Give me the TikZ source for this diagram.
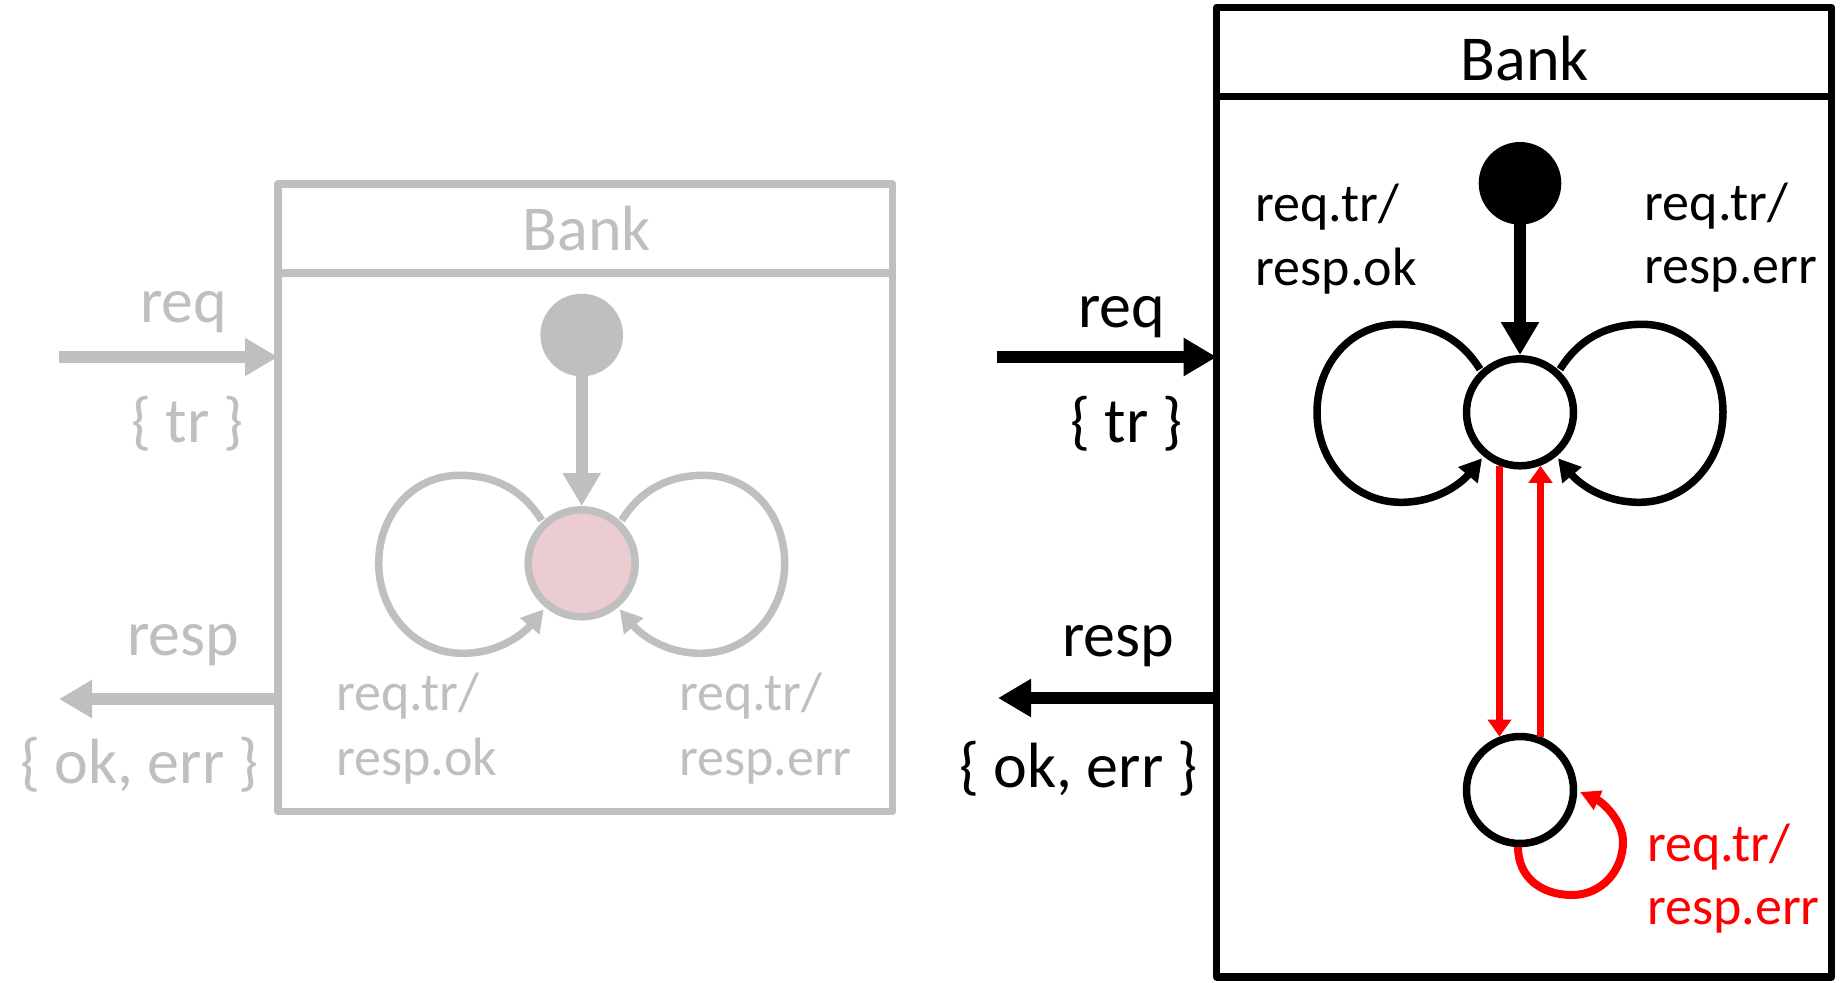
\documentclass[tikz,border=0pt]{standalone}
\usepackage{fontspec}
\setmainfont{Carlito}
\usetikzlibrary{arrows.meta,calc}
\definecolor{gr}{RGB}{191,191,191}
\definecolor{pinkfill}{RGB}{235,204,209}
\definecolor{myred}{RGB}{255,0,0}
\begin{document}
\begin{tikzpicture}[x=0.5pt,y=0.5pt,
  every node/.style={inner sep=0pt, outer sep=0pt},
  boxL/.style={draw, rectangle, line width=3.75pt, line join=round, minimum width=307.35pt, minimum height=313.85pt},
  boxR/.style={draw, rectangle, line width=3.75pt, line join=round, minimum width=307.5pt, minimum height=484.85pt},
  state/.style={draw, circle, line width=3.75pt, minimum size=53.5pt, outer sep=1.875pt},
  initst/.style={circle, minimum size=41.3pt},
  lab/.style={font=\fontsize{27}{31.5}\selectfont, anchor=base west},
  port/.style={font=\fontsize{32}{38}\selectfont, anchor=base east},
  title/.style={font=\fontsize{32}{38}\selectfont, anchor=base},
  bigarrow/.style={line width=6pt, -{Triangle[length=16.5pt,width=18pt]}},
  looparrow/.style={line width=3.75pt, -{Triangle[length=11pt,width=12pt]}},
  redarrow/.style={myred, line width=3.5pt, -{Triangle[length=8.5pt,width=11.5pt]}},
  redloop/.style={myred, line width=4pt, -{Triangle[length=10pt,width=10pt]}}
]
\fill[white] (0,0) rectangle (1843,-982);
\useasboundingbox (0,0) rectangle (1843,-982);

% ================= LEFT (grey) =================
\begin{scope}[gr]
\node[boxL, draw=gr] (lbox) at (585.35,-497.85) {};
\draw[line width=3.75pt] (lbox.west |- 0,-273) -- (lbox.east |- 0,-273);
\node[title, text=gr] (ltitle) at (587,-250) {Bank};

\node[initst, fill=gr] (linit) at (581.7,-335) {};
\node[state, draw=gr, fill=pinkfill] (lmain) at (581.7,-563.3) {};
\draw[bigarrow, gr] (linit.center) -- (lmain.north);

\draw[looparrow, gr] ([shift={(-40,43)}]lmain.center)
  .. controls ([shift={(-58,72)}]lmain.center) and ([shift={(-85,88)}]lmain.center) .. ([shift={(-122,88)}]lmain.center)
  .. controls ([shift={(-170,88)}]lmain.center) and ([shift={(-203,48)}]lmain.center) .. ([shift={(-203,0)}]lmain.center)
  .. controls ([shift={(-203,-48)}]lmain.center) and ([shift={(-168,-90)}]lmain.center) .. ([shift={(-119,-90)}]lmain.center)
  .. controls ([shift={(-82,-90)}]lmain.center) and ([shift={(-58,-70)}]lmain.center) .. ([shift={(-38,-46)}]lmain.center);
\draw[looparrow, gr] ([shift={(40,43)}]lmain.center)
  .. controls ([shift={(58,72)}]lmain.center) and ([shift={(85,88)}]lmain.center) .. ([shift={(122,88)}]lmain.center)
  .. controls ([shift={(170,88)}]lmain.center) and ([shift={(203,48)}]lmain.center) .. ([shift={(203,0)}]lmain.center)
  .. controls ([shift={(203,-48)}]lmain.center) and ([shift={(168,-90)}]lmain.center) .. ([shift={(119,-90)}]lmain.center)
  .. controls ([shift={(82,-90)}]lmain.center) and ([shift={(58,-70)}]lmain.center) .. ([shift={(38,-46)}]lmain.center);

\node[lab, text=gr] (ll1a) at (336,-710) {req.tr/};
\node[lab, text=gr] (ll1b) at (336,-775) {resp.ok};
\node[lab, text=gr] (ll2a) at (679,-710) {req.tr/};
\node[lab, text=gr] (ll2b) at (679,-775) {resp.err};

\coordinate (lreqs) at (59,-357);
\coordinate (lresps) at (59,-699);
\draw[bigarrow, gr] (lreqs) -- (lreqs -| lbox.west);
\draw[bigarrow, gr] (lresps -| lbox.west) -- (lresps);
\node[port, text=gr] (lreq) at (227,-322) {req};
\node[port, text=gr] (ltr) at (244,-442) {\{ tr \}};
\node[port, text=gr] (lresp) at (239,-655) {resp};
\node[port, text=gr] (lokerr) at (259,-783) {\{ ok, err \}};
\end{scope}

% ================= RIGHT (black) =================
\node[boxR] (rbox) at (1524.2,-492.15) {};
\draw[line width=3.75pt] (rbox.west |- 0,-96.7) -- (rbox.east |- 0,-96.7);
\node[title] (rtitle) at (1525,-80) {Bank};

\node[initst, fill=black] (rinit) at (1520,-183.3) {};
\node[state, fill=white] (rmain) at (1520,-412.3) {};
\node[state, fill=white] (rbot) at (1520,-790) {};
\draw[bigarrow] (rinit.center) -- (rmain.north);

\draw[looparrow] ([shift={(-40,43)}]rmain.center)
  .. controls ([shift={(-58,72)}]rmain.center) and ([shift={(-85,88)}]rmain.center) .. ([shift={(-122,88)}]rmain.center)
  .. controls ([shift={(-170,88)}]rmain.center) and ([shift={(-203,48)}]rmain.center) .. ([shift={(-203,0)}]rmain.center)
  .. controls ([shift={(-203,-48)}]rmain.center) and ([shift={(-168,-90)}]rmain.center) .. ([shift={(-119,-90)}]rmain.center)
  .. controls ([shift={(-82,-90)}]rmain.center) and ([shift={(-58,-70)}]rmain.center) .. ([shift={(-38,-46)}]rmain.center);
\draw[looparrow] ([shift={(40,43)}]rmain.center)
  .. controls ([shift={(58,72)}]rmain.center) and ([shift={(85,88)}]rmain.center) .. ([shift={(122,88)}]rmain.center)
  .. controls ([shift={(170,88)}]rmain.center) and ([shift={(203,48)}]rmain.center) .. ([shift={(203,0)}]rmain.center)
  .. controls ([shift={(203,-48)}]rmain.center) and ([shift={(168,-90)}]rmain.center) .. ([shift={(119,-90)}]rmain.center)
  .. controls ([shift={(82,-90)}]rmain.center) and ([shift={(58,-70)}]rmain.center) .. ([shift={(38,-46)}]rmain.center);

\draw[redarrow] (rmain.-111.6) -- (rbot.111.6);
\draw[redarrow] (rbot.69.5) -- (rmain.-69.5);
\draw[redloop] ([shift={(-2,-57)}]rbot.center)
  .. controls ([shift={(-2,-88)}]rbot.center) and ([shift={(22,-105)}]rbot.center) .. ([shift={(52,-105)}]rbot.center)
  .. controls ([shift={(82,-105)}]rbot.center) and ([shift={(103,-80)}]rbot.center) .. ([shift={(103,-52)}]rbot.center)
  .. controls ([shift={(103,-30)}]rbot.center) and ([shift={(82,-12)}]rbot.center) .. ([shift={(60,-2)}]rbot.center);

\node[lab] (rl1a) at (1255.5,-221.7) {req.tr/};
\node[lab] (rl1b) at (1255.5,-285) {resp.ok};
\node[lab] (rl2a) at (1644.6,-220) {req.tr/};
\node[lab] (rl2b) at (1644.6,-283) {resp.err};
\node[lab, text=myred] (rl3a) at (1647,-861) {req.tr/};
\node[lab, text=myred] (rl3b) at (1647,-924.5) {resp.err};

\coordinate (rreqs) at (997,-357);
\coordinate (rresps) at (998,-698);
\draw[bigarrow] (rreqs) -- (rreqs -| rbox.west);
\draw[bigarrow] (rresps -| rbox.west) -- (rresps);
\node[port] (rreq) at (1165,-327) {req};
\node[port] (rtr) at (1183,-442) {\{ tr \}};
\node[port] (rresp) at (1174,-656) {resp};
\node[port] (rokerr) at (1198,-787) {\{ ok, err \}};
\end{tikzpicture}
\end{document}
